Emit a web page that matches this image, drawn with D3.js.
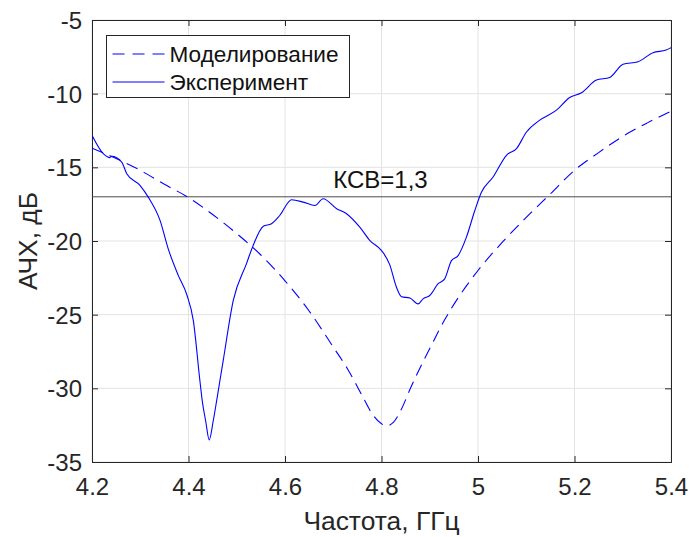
<!DOCTYPE html>
<html>
<head>
<meta charset="utf-8">
<script src="https://cdn.jsdelivr.net/npm/d3@7"></script>
<style>
  body { margin: 0; background: #fff; }
  svg { display: block; font-family: "Liberation Sans", Arial, sans-serif; }
</style>
</head>
<body>
<div id="chart"></div>
<script>
(() => {
// === data ===
const xTicks = [4.2, 4.4, 4.6, 4.8, 5, 5.2, 5.4];
const yTicks = [-35, -30, -25, -20, -15, -10, -5];

const modelFreq = [4.20, 4.25, 4.30, 4.35, 4.40, 4.45, 4.50, 4.55, 4.60, 4.65, 4.70, 4.73, 4.76, 4.78,
  4.80, 4.81, 4.825, 4.84, 4.86, 4.88, 4.90, 4.93, 4.96, 5.00, 5.05, 5.10, 5.15, 5.20, 5.25, 5.30, 5.35, 5.40];
const modelDb = [-13.7, -14.4, -15.2, -16.15, -17.05, -18.2, -19.5, -20.95, -22.7, -24.75, -27.2, -28.7, -30.5, -31.7,
  -32.4, -32.55, -32.3, -31.5, -30.0, -28.6, -27.3, -25.4, -23.8, -22.0, -20.1, -18.4, -16.8, -15.2, -14.0, -12.9, -12.0, -11.2];

const expFreq = [4.200, 4.2234, 4.237, 4.241, 4.2615, 4.272, 4.2994, 4.3166, 4.341, 4.358, 4.379, 4.396, 4.41,
  4.4237, 4.4285, 4.4355, 4.443, 4.4513, 4.4583, 4.465, 4.472, 4.4927, 4.52, 4.534, 4.555, 4.572, 4.589,
  4.6137, 4.6377, 4.662, 4.679, 4.707, 4.7276, 4.755, 4.776, 4.80, 4.817, 4.831, 4.8415, 4.8588, 4.876,
  4.886, 4.90, 4.9174, 4.931, 4.945, 4.9588, 4.976, 4.9934, 5.0073, 5.0313, 5.059, 5.0798, 5.1005, 5.128,
  5.1626, 5.19, 5.2144, 5.2455, 5.273, 5.3006, 5.3317, 5.3627, 5.39, 5.40];
const expDb = [-12.82, -14.07, -14.34, -14.25, -14.64, -15.43, -16.22, -17.02, -18.6, -20.53, -22.35, -23.6, -25.4,
  -29.5, -30.85, -32.2, -33.5, -32.2, -30.85, -29.5, -28.1, -24.05, -21.55, -20.3, -19.0, -18.83, -18.27,
  -17.2, -17.36, -17.59, -17.13, -17.81, -18.15, -19.06, -19.97, -20.65, -21.6, -23.14, -23.78, -23.87, -24.27,
  -23.93, -23.7, -22.9, -22.57, -21.33, -20.99, -19.74, -17.93, -16.68, -15.66, -14.18, -13.73, -12.6, -11.8,
  -11.12, -10.26, -9.94, -9.08, -8.9, -8.01, -7.83, -7.22, -7.04, -6.88];

const vswrLevel = -17;
const vswrLabel = "КСВ=1,3";
const seriesNames = ["Моделирование", "Эксперимент"];

// ---- layout ----
const width = 689, height = 537;
const margin = { top: 20, right: 18, bottom: 75, left: 92 };
const innerW = width - margin.left - margin.right;
const innerH = height - margin.top - margin.bottom;
const axisColor = "#262626";
const blue = "#0000ff";

const x = d3.scaleLinear().domain([4.2, 5.4]).range([0, innerW]);
const y = d3.scaleLinear().domain([-35, -5]).range([innerH, 0]);

const svg = d3.select("#chart").append("svg")
  .attr("width", width).attr("height", height);

const g = svg.append("g").attr("transform", `translate(${margin.left},${margin.top})`);

// grid
g.append("g").selectAll("line").data(xTicks).join("line")
  .attr("x1", d => x(d)).attr("x2", d => x(d))
  .attr("y1", 0).attr("y2", innerH)
  .attr("stroke", "#e3e3e3").attr("stroke-width", 1);
g.append("g").selectAll("line").data(yTicks).join("line")
  .attr("y1", d => y(d)).attr("y2", d => y(d))
  .attr("x1", 0).attr("x2", innerW)
  .attr("stroke", "#e3e3e3").attr("stroke-width", 1);

// axes (ticks inside, all four sides)
const fmt = d => String(d);
const axBottom = g.append("g").attr("transform", `translate(0,${innerH})`)
  .call(d3.axisBottom(x).tickValues(xTicks).tickSize(-6).tickPadding(16).tickFormat(fmt));
const axTop = g.append("g")
  .call(d3.axisTop(x).tickValues(xTicks).tickSize(-6).tickFormat(""));
const axLeft = g.append("g")
  .call(d3.axisLeft(y).tickValues(yTicks).tickSize(-6).tickPadding(10).tickFormat(fmt));
const axRight = g.append("g").attr("transform", `translate(${innerW},0)`)
  .call(d3.axisRight(y).tickValues(yTicks).tickSize(-6).tickFormat(""));

[axBottom, axTop, axLeft, axRight].forEach(a => {
  a.select(".domain").attr("stroke", axisColor).attr("stroke-width", 1);
  a.selectAll(".tick line").attr("stroke", axisColor);
  a.selectAll(".tick text").attr("fill", axisColor)
    .style("font-size", "24px").style("font-family", "'Liberation Sans', Arial, sans-serif");
});
axBottom.selectAll(".tick text").attr("dy", "0.71em");
axLeft.selectAll(".tick text").attr("dy", "0.36em");

// VSWR level line
g.append("line")
  .attr("x1", 0).attr("x2", innerW)
  .attr("y1", y(vswrLevel)).attr("y2", y(vswrLevel))
  .attr("stroke", "#4a4a4a").attr("stroke-width", 1);
g.append("text")
  .attr("x", x(4.7)).attr("y", y(vswrLevel) - 9)
  .attr("fill", "#111")
  .style("font-size", "24px")
  .text(vswrLabel);

// curves
g.append("clipPath").attr("id", "clip")
  .append("rect").attr("width", innerW).attr("height", innerH);

const line = d3.line()
  .x(d => x(d[0])).y(d => y(d[1]))
  .curve(d3.curveMonotoneX);

const modelPts = modelFreq.map((f, i) => [f, modelDb[i]]);
const expPts = expFreq.map((f, i) => [f, expDb[i]]);

const curves = g.append("g").attr("clip-path", "url(#clip)");
curves.append("path").datum(modelPts)
  .attr("d", line).attr("fill", "none")
  .attr("stroke", blue).attr("stroke-width", 1.1)
  .attr("stroke-dasharray", "12,7");
curves.append("path").datum(expPts)
  .attr("d", line).attr("fill", "none")
  .attr("stroke", blue).attr("stroke-width", 1.1);

// axis titles
svg.append("text")
  .attr("x", margin.left + innerW / 2).attr("y", 530)
  .attr("text-anchor", "middle").attr("fill", axisColor)
  .style("font-size", "26.4px")
  .text("Частота, ГГц");
svg.append("text")
  .attr("transform", `translate(37,${margin.top + innerH / 2}) rotate(-90)`)
  .attr("text-anchor", "middle").attr("fill", axisColor)
  .style("font-size", "26.4px")
  .text("АЧХ, дБ");

// legend
const leg = svg.append("g").attr("transform", "translate(106.5,35.5)");
leg.append("rect").attr("width", 243).attr("height", 62)
  .attr("fill", "#fff").attr("stroke", axisColor).attr("stroke-width", 1);
const rows = leg.selectAll("g.row").data(seriesNames).join("g")
  .attr("class", "row")
  .attr("transform", (d, i) => `translate(0,${18.5 + i * 28})`);
rows.append("path")
  .attr("d", "M6,0H58")
  .attr("fill", "none")
  .style("stroke", blue).style("stroke-width", "1.1px")
  .style("stroke-dasharray", (d, i) => i === 0 ? "12,8" : "none");
rows.append("text")
  .attr("x", 63).attr("y", -0.5).attr("dy", "0.36em")
  .attr("fill", "#111")
  .style("font-size", "22.6px")
  .text(d => d);
})();
</script>
</body>
</html>
